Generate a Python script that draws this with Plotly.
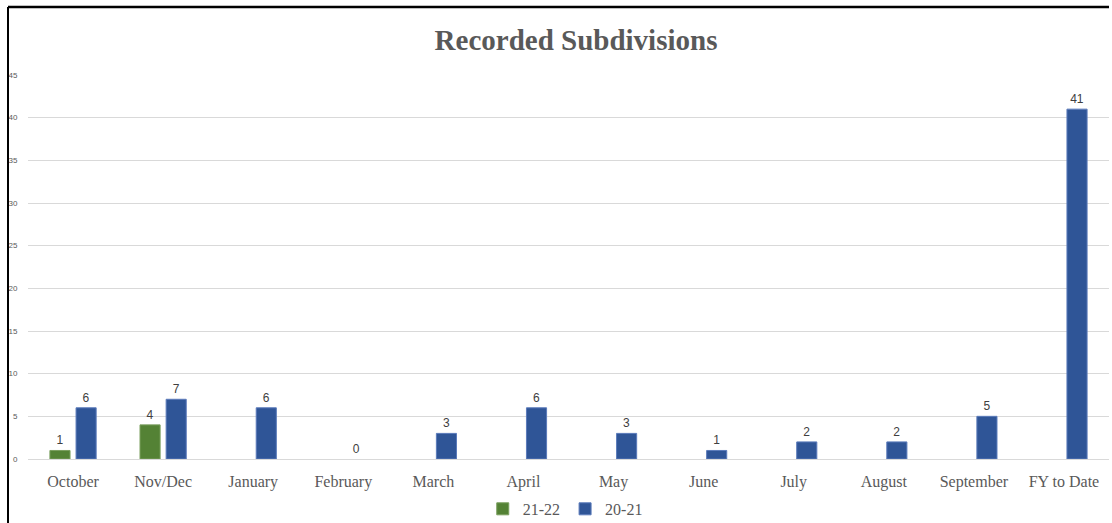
import plotly.graph_objects as go

months = ['October', 'Nov/Dec', 'January', 'February', 'March', 'April',
          'May', 'June', 'July', 'August', 'September', 'FY to Date']
fy_21_22 = [1, 4, None, None, None, None, None, None, None, None, None, None]
fy_20_21 = [6, 7, 6, 0, 3, 6, 3, 1, 2, 2, 5, 41]
y_ticks = [0, 5, 10, 15, 20, 25, 30, 35, 40, 45]

green = '#548235'
blue = '#2F5597'
label_font = dict(family='Liberation Sans, Arial', size=12, color='#404040')

fig = go.Figure()

fig.add_trace(go.Bar(
    x=months, y=fy_21_22, name='21-22',
    marker=dict(color=green, line=dict(color='#7a9f5e', width=1)),
    text=fy_21_22, textposition='outside', textfont=label_font,
    cliponaxis=False,
))
fig.add_trace(go.Bar(
    x=months, y=fy_20_21, name='20-21',
    marker=dict(color=blue, line=dict(color='#5b7bbb',
                                      width=[1 if v else 0 for v in fy_20_21])),
    text=fy_20_21, textposition='outside', textfont=label_font,
    cliponaxis=False,
))

fig.update_layout(
    width=1112, height=523,
    margin=dict(l=28, r=3, t=75, b=64, autoexpand=False),
    plot_bgcolor='white', paper_bgcolor='white',
    barmode='group', bargap=0.42, bargroupgap=0.23,
    title=dict(text='<b>Recorded Subdivisions</b>', x=0.518, xanchor='center',
               y=0.923, yanchor='middle',
               font=dict(family='Liberation Serif, serif', size=29, color='#595959')),
    legend=dict(orientation='h', x=0.497, xanchor='center', y=-0.13, yanchor='middle',
                font=dict(family='Liberation Serif, serif', size=16, color='#595959'),
                itemwidth=30, traceorder='normal'),
)

fig.update_xaxes(
    showgrid=False, showline=True, linecolor='#d9d9d9', linewidth=1,
    ticks='outside', ticklen=8, tickcolor='rgba(0,0,0,0)', automargin=False,
    tickfont=dict(family='Liberation Serif, serif', size=16, color='#595959'),
)
fig.update_yaxes(
    range=[0, 45], tickvals=y_ticks, showgrid=True, gridcolor='#d9d9d9', gridwidth=1,
    zeroline=True, zerolinecolor='#d9d9d9', zerolinewidth=1,
    ticks='outside', ticklen=8, tickcolor='rgba(0,0,0,0)', automargin=False,
    tickfont=dict(family='Liberation Sans, Arial', size=8, color='#595959'),
)

# black frame on the left and top edges, like the cropped screenshot
fig.add_shape(type='line', xref='paper', yref='paper',
              x0=-0.0185, x1=-0.0185, y0=1.177, y1=-0.17,
              line=dict(color='black', width=2))
fig.add_shape(type='line', xref='paper', yref='paper',
              x0=-0.0185, x1=1.0, y0=1.177, y1=1.177,
              line=dict(color='black', width=2.5))

fig.write_html("out.html", config={'displayModeBar': False},
               post_script="document.body.style.margin='0';")
